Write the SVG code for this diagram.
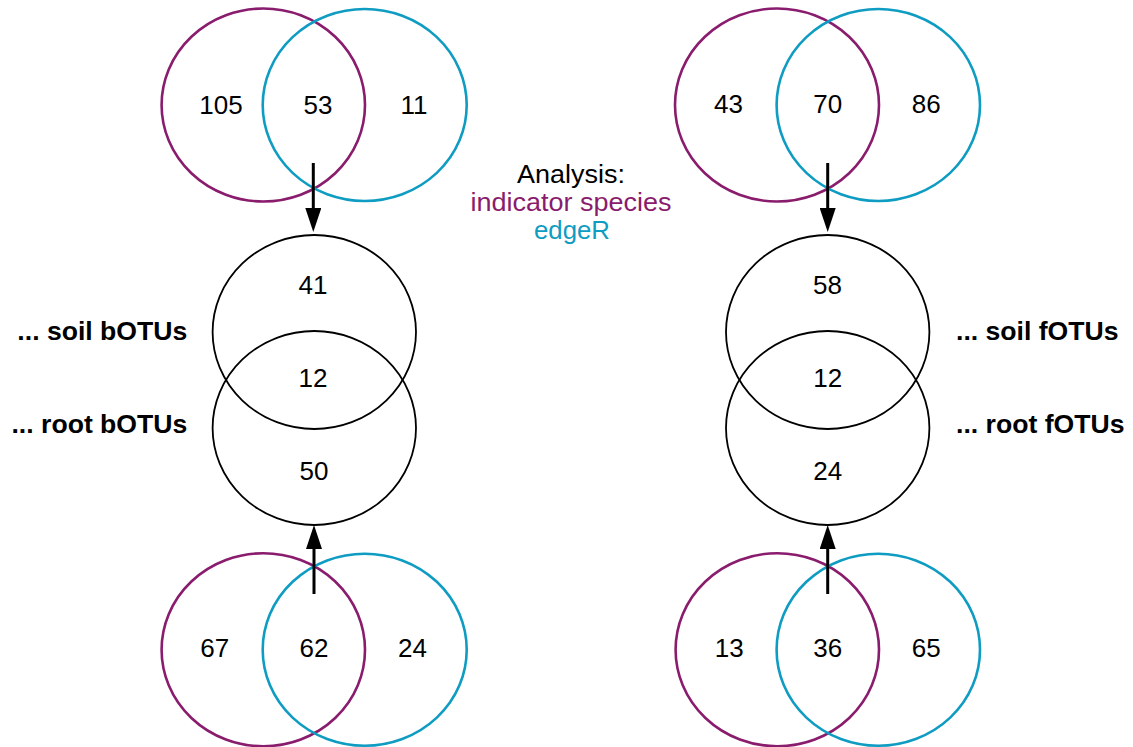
<svg xmlns="http://www.w3.org/2000/svg" width="1133" height="747" viewBox="0 0 1133 747">
<defs>
<marker id="ah" viewBox="0 0 24 16" refX="14" refY="8" markerWidth="24" markerHeight="16" markerUnits="userSpaceOnUse" orient="auto">
<path d="M0,0 L24,8 L0,16 Z" fill="#000"/>
</marker>
<style>
.p{fill:none;stroke:#8a1c6d;stroke-width:2.6}
.c{fill:none;stroke:#0f9cc2;stroke-width:2.6}
.k{fill:none;stroke:#000;stroke-width:1.8}
.n{font-family:"Liberation Sans",Arial,sans-serif;font-size:26px;fill:#000;text-anchor:middle}
.b{font-family:"Liberation Sans",Arial,sans-serif;font-size:26.6px;font-weight:bold;fill:#000}
.a{font-family:"Liberation Sans",Arial,sans-serif;font-size:25.5px;text-anchor:middle}
.arr{stroke:#000;stroke-width:3;fill:none}
</style>
</defs>
<rect width="1133" height="747" fill="#fff"/>
<g id="venn-top-left">
<ellipse class="p" cx="263.3" cy="105" rx="101.7" ry="96.5"/>
<ellipse class="c" cx="364.7" cy="105" rx="102" ry="96"/>
<text class="n" x="221" y="113.5">105</text>
<text class="n" x="318" y="113.5">53</text>
<text class="n" x="414" y="113.5">11</text>
</g>
<g id="venn-top-right">
<ellipse class="p" cx="777" cy="105" rx="102" ry="96.5"/>
<ellipse class="c" cx="878.3" cy="105" rx="101.7" ry="96"/>
<text class="n" x="728.5" y="113">43</text>
<text class="n" x="827.7" y="113">70</text>
<text class="n" x="926.3" y="113">86</text>
</g>
<g id="venn-mid-left">
<ellipse class="k" cx="314.3" cy="332" rx="101.7" ry="97"/>
<ellipse class="k" cx="314.3" cy="428" rx="101.7" ry="97"/>
<text class="n" x="313" y="293.5">41</text>
<text class="n" x="313" y="387">12</text>
<text class="n" x="314" y="480">50</text>
<text class="b" x="187.3" y="339.5" text-anchor="end">... soil bOTUs</text>
<text class="b" x="187.3" y="433" text-anchor="end">... root bOTUs</text>
</g>
<g id="venn-mid-right">
<ellipse class="k" cx="827.7" cy="332" rx="101.7" ry="97"/>
<ellipse class="k" cx="827.7" cy="428" rx="101.7" ry="97"/>
<text class="n" x="827.5" y="293.5">58</text>
<text class="n" x="827.7" y="387">12</text>
<text class="n" x="827.7" y="480">24</text>
<text class="b" x="956" y="339.5">... soil fOTUs</text>
<text class="b" x="956" y="433">... root fOTUs</text>
</g>
<g id="venn-bottom-left">
<ellipse class="p" cx="263.3" cy="649.7" rx="101.7" ry="96.5"/>
<ellipse class="c" cx="364.7" cy="649.7" rx="102" ry="96"/>
<text class="n" x="214.7" y="656.5">67</text>
<text class="n" x="314" y="656.5">62</text>
<text class="n" x="412.5" y="656.5">24</text>
</g>
<g id="venn-bottom-right">
<ellipse class="p" cx="777.3" cy="649.7" rx="101.7" ry="96.5"/>
<ellipse class="c" cx="878.3" cy="649.7" rx="101.7" ry="96"/>
<text class="n" x="729.2" y="656.5">13</text>
<text class="n" x="827.7" y="656.5">36</text>
<text class="n" x="926.3" y="656.5">65</text>
</g>
<g id="legend">
<text class="a" x="571" y="183" fill="#000" textLength="108" lengthAdjust="spacingAndGlyphs">Analysis:</text>
<text class="a" x="571" y="211" fill="#8a1c6d" textLength="201" lengthAdjust="spacingAndGlyphs">indicator species</text>
<text class="a" x="572" y="239" fill="#0f9cc2" textLength="76" lengthAdjust="spacingAndGlyphs">edgeR</text>
</g>
<g id="connectors">
<line class="arr" x1="313.3" y1="163" x2="313.3" y2="222" marker-end="url(#ah)"/>
<line class="arr" x1="827.7" y1="163" x2="827.7" y2="222" marker-end="url(#ah)"/>
<line class="arr" x1="314" y1="594" x2="314" y2="535" marker-end="url(#ah)"/>
<line class="arr" x1="827.7" y1="594" x2="827.7" y2="535" marker-end="url(#ah)"/>
</g>
</svg>
